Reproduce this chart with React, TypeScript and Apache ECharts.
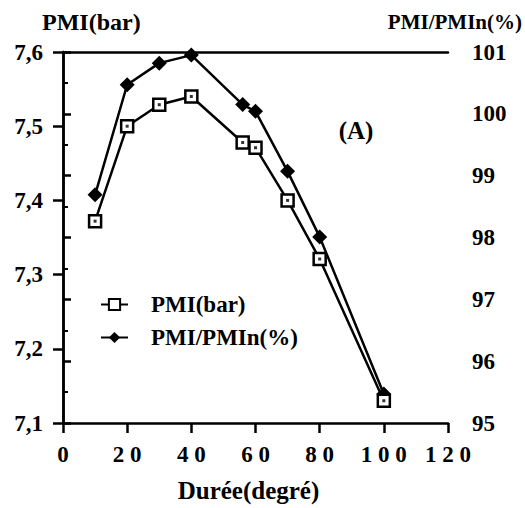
import React, { useEffect, useRef } from 'react';
import * as echarts from 'echarts';

const durations = [10, 20, 30, 40, 56, 60, 70, 80, 100];
const pmiBar = [7.372, 7.5, 7.529, 7.54, 7.478, 7.471, 7.4, 7.321, 7.13];
const pmiRatio = [98.69, 100.47, 100.82, 100.95, 100.15, 100.04, 99.07, 98.01, 95.47];
const seriesNames = ['PMI(bar)', 'PMI/PMIn(%)'];
const leftTitle = 'PMI(bar)';
const rightTitle = 'PMI/PMIn(%)';
const xTitle = 'Durée(degré)';
const panelLabel = '(A)';

export default function App() {
  const ref = useRef<HTMLDivElement>(null);
  useEffect(() => {
    const chart = echarts.init(ref.current!, null, { renderer: 'svg' });
    const font = 'Liberation Serif';
    const txt = { fontFamily: font, fontWeight: 'bold' as const, fontSize: 23, color: '#000' };
    const axisLine = { show: true, lineStyle: { color: '#000', width: 2.5 } };
    const tickStyle = { color: '#000', width: 2.5 };
    const pmiData = durations.map((d, i) => [d, pmiBar[i]]);
    const ratioData = durations.map((d, i) => [d, pmiRatio[i]]);
    chart.setOption({
      animation: false,
      backgroundColor: '#fff',
      textStyle: { fontFamily: font },
      grid: { left: 63, right: 77, top: 52, bottom: 84 },
      xAxis: [
        {
          type: 'value', min: 0, max: 120, interval: 20, position: 'bottom',
          axisLine, axisTick: { show: true, length: 10, lineStyle: tickStyle },
          axisLabel: { ...txt, margin: 20, formatter: (v: number) => String(v).split('').join(' ') },
          splitLine: { show: false },
          name: xTitle, nameLocation: 'middle', nameGap: 55,
          nameTextStyle: { ...txt, fontSize: 25, padding: [0, 14, 0, 0] },
        },
        {
          type: 'value', min: 0, max: 120, position: 'top',
          axisLine, axisTick: { show: false }, axisLabel: { show: false }, splitLine: { show: false },
        },
      ],
      yAxis: [
        {
          type: 'value', min: 7.1, max: 7.6, interval: 0.1, position: 'left',
          axisLine, axisTick: { show: true, length: 10, lineStyle: tickStyle },
          axisLabel: { ...txt, margin: 20, formatter: (v: number) => v.toFixed(1).replace('.', ',') },
          splitLine: { show: false },
        },
        {
          type: 'value', min: 95, max: 101, interval: 1, position: 'right',
          axisLine, axisTick: { show: true, length: 8, lineStyle: tickStyle },
          minorTick: { show: true, splitNumber: 2, length: 5, lineStyle: { color: '#000', width: 2 } },
          axisLabel: { ...txt, margin: 24 },
          splitLine: { show: false },
        },
      ],
      legend: {
        orient: 'vertical', left: 100, top: 293, padding: 0, itemGap: 10,
        itemWidth: 27, itemHeight: 14,
        data: seriesNames,
        textStyle: { ...txt, padding: [0, 0, 0, 18] },
      },
      series: [
        {
          name: seriesNames[0], type: 'line', yAxisIndex: 0, data: pmiData,
          symbol: 'rect', symbolSize: 12,
          itemStyle: { color: '#fff', borderColor: '#000', borderWidth: 2.5 },
          lineStyle: { color: '#000', width: 2.5 }, z: 3,
        },
        {
          name: seriesNames[1], type: 'line', yAxisIndex: 1, data: ratioData,
          symbol: 'diamond', symbolSize: 15,
          itemStyle: { color: '#000' },
          lineStyle: { color: '#000', width: 2.5 }, z: 2,
        },
        {
          type: 'scatter', yAxisIndex: 0, data: pmiData, symbol: 'rect', symbolSize: 3,
          itemStyle: { color: '#000' }, z: 5, silent: true,
        },
      ],
      graphic: [
        { type: 'text', left: 42, top: 10, style: { text: leftTitle, fontFamily: font, fontWeight: 'bold', fontSize: 24, fill: '#000' } },
        { type: 'text', right: 3, top: 11, style: { text: rightTitle, fontFamily: font, fontWeight: 'bold', fontSize: 21, fill: '#000' } },
        { type: 'text', x: 356, y: 130, style: { text: panelLabel, align: 'center', verticalAlign: 'middle', fontFamily: font, fontWeight: 'bold', fontSize: 25, fill: '#000' } },
      ],
    });
    return () => chart.dispose();
  }, []);
  return <div ref={ref} style={{ position: 'fixed', left: 0, top: 0, width: 525, height: 508, background: '#fff' }} />;
}
